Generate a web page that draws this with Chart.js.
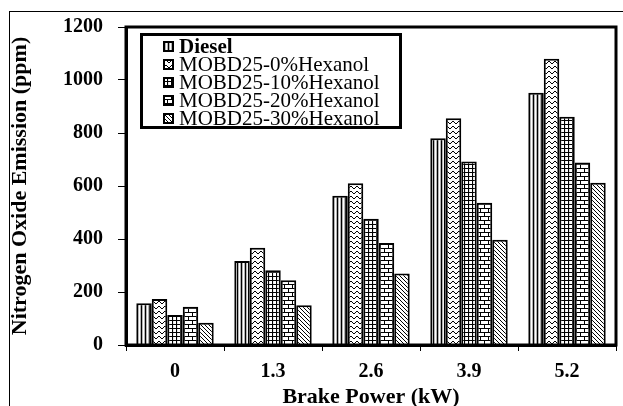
<!DOCTYPE html>
<html>
<head>
<meta charset="utf-8">
<script src="https://cdn.jsdelivr.net/npm/chart.js@4/dist/chart.umd.min.js"></script>
<style>
  body { margin: 0; background: #fff; }
  #wrap { position: relative; width: 623px; height: 406px; overflow: hidden; }
  #frame { position: absolute; left: 9px; top: 11px; right: 0; bottom: -5px; border-top: 1px solid #000; border-left: 1px solid #000; }
  #box { position: absolute; left: 0; top: 0; width: 623px; height: 406px; }
  #legend { position: absolute; left: 140px; top: 33px; width: 262px; height: 96px; box-sizing: border-box;
            border: 3px solid #000; background: #fff; padding-top: 1px; font-family: 'Liberation Serif', serif; }
  .row { height: 18px; display: flex; align-items: center; padding-left: 20px; font-size: 21px; color: #000; white-space: nowrap; }
  .row canvas { width: 11px; height: 11px; margin-right: 5px; }
</style>
</head>
<body>
<div id="wrap">
  <div id="frame"></div>
  <div id="box"><canvas id="noxChart"></canvas></div>
  <div id="legend"></div>
</div>
<script>
// categorias e valores
const powers = ['0', '1.3', '2.6', '3.9', '5.2'];
const diesel = [158, 317, 563, 780, 952];
const hex0 = [174, 367, 610, 856, 1080];
const hex10 = [113, 282, 476, 692, 861];
const hex20 = [144, 244, 385, 537, 689];
const hex30 = [84, 150, 270, 397, 612];
const names = ['Diesel', 'MOBD25-0%Hexanol', 'MOBD25-10%Hexanol', 'MOBD25-20%Hexanol', 'MOBD25-30%Hexanol'];
const yTicks = [0, 200, 400, 600, 800, 1000, 1200];

// pequenos ladrilhos para as hachuras
function makeTile(kind) {
    const t = document.createElement('canvas');
    const c = t.getContext('2d');
    let w = 4, h = 4;
    if (kind === 'zigzag') { w = 6; h = 5; }
    if (kind === 'brick') { w = 8; h = 8; }
    t.width = w; t.height = h;
    c.fillStyle = '#fff';
    c.fillRect(0, 0, w, h);
    c.strokeStyle = '#000';
    c.lineWidth = 1;
    c.beginPath();
    if (kind === 'vertical') {
        c.lineWidth = 1.6;
        c.moveTo(1.5, 0); c.lineTo(1.5, h);
    } else if (kind === 'zigzag') {
        c.moveTo(0, 4); c.lineTo(3, 1); c.lineTo(6, 4);
    } else if (kind === 'grid') {
        c.lineWidth = 1.2;
        c.moveTo(0.5, 0); c.lineTo(0.5, h);
        c.moveTo(0, 0.5); c.lineTo(w, 0.5);
    } else if (kind === 'brick') {
        c.moveTo(0, 0.5); c.lineTo(w, 0.5);
        c.moveTo(0, 4.5); c.lineTo(w, 4.5);
        c.moveTo(0.5, 0); c.lineTo(0.5, 4);
        c.moveTo(4.5, 4); c.lineTo(4.5, 8);
    } else if (kind === 'diagonal') {
        c.moveTo(0, 0); c.lineTo(w, h);
        c.moveTo(-1, h - 1); c.lineTo(1, h + 1);
        c.moveTo(w - 1, -1); c.lineTo(w + 1, 1);
    }
    c.stroke();
    return t;
}

const kinds = ['vertical', 'zigzag', 'grid', 'brick', 'diagonal'];
const tiles = kinds.map(makeTile);
const ctx = document.getElementById('noxChart').getContext('2d');
const fills = tiles.map(t => ctx.createPattern(t, 'repeat'));
const series = [diesel, hex0, hex10, hex20, hex30];

// legenda em html
const legend = document.getElementById('legend');
names.forEach((n, i) => {
    const row = document.createElement('div');
    row.className = 'row';
    const sw = document.createElement('canvas');
    sw.width = 11; sw.height = 11;
    const sc = sw.getContext('2d');
    sc.fillStyle = sc.createPattern(tiles[i], 'repeat');
    sc.fillRect(0, 0, 11, 11);
    sc.lineWidth = 2;
    sc.strokeStyle = '#000';
    sc.strokeRect(1, 1, 9, 9);
    row.appendChild(sw);
    const span = document.createElement('span');
    span.textContent = n;
    if (i === 0) span.style.fontWeight = 'bold';
    row.appendChild(span);
    legend.appendChild(row);
});

// moldura grossa da area do grafico
const plotFrame = {
    id: 'plotFrame',
    afterDatasetsDraw(chart) {
        const a = chart.chartArea;
        const c = chart.ctx;
        c.save();
        c.lineWidth = 3;
        c.strokeStyle = '#000';
        c.strokeRect(a.left, a.top, a.right - a.left, a.bottom - a.top);
        c.restore();
    }
};

const tickFont = { family: 'Liberation Serif', size: 20, weight: 'bold' };
const titleFont = { family: 'Liberation Serif', size: 22, weight: 'bold', lineHeight: 1 };

new Chart(ctx, {
    type: 'bar',
    data: {
        labels: powers,
        datasets: series.map((d, i) => ({
            label: names[i],
            data: d,
            backgroundColor: fills[i],
            borderColor: '#000',
            borderWidth: 2,
            barPercentage: 1,
            categoryPercentage: 0.79
        }))
    },
    options: {
        responsive: true,
        maintainAspectRatio: false,
        animation: false,
        layout: { padding: { top: 27, right: 7, left: 0, bottom: 0 } },
        plugins: { legend: { display: false }, tooltip: { enabled: false } },
        scales: {
            x: {
                grid: { drawOnChartArea: false, offset: true, tickLength: 6, color: '#000', lineWidth: 1 },
                border: { display: true, width: 3, color: '#000' },
                ticks: { font: tickFont, color: '#000', padding: 9 },
                title: { display: true, text: 'Brake Power (kW)', font: titleFont, color: '#000', padding: { top: 0, bottom: -2 } },
                afterFit: s => { s.height = 61; }
            },
            y: {
                min: 0,
                max: 1200,
                afterBuildTicks: s => { s.ticks = yTicks.map(v => ({ value: v })); },
                grid: { drawOnChartArea: false, tickLength: 8, color: '#000', lineWidth: 1 },
                border: { display: true, width: 3, color: '#000' },
                ticks: { font: tickFont, color: '#000', padding: 15, callback: v => String(v) },
                title: { display: true, text: 'Nitrogen Oxide Emission (ppm)', font: titleFont, color: '#000', padding: { top: 9, bottom: 0 } },
                afterFit: s => { s.width = 126; }
            }
        }
    },
    plugins: [plotFrame]
});
</script>
</body>
</html>
